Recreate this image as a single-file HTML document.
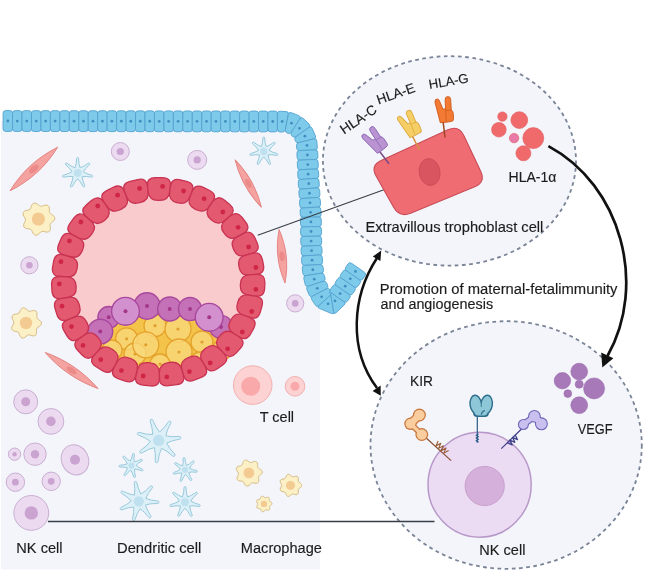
<!DOCTYPE html>
<html><head><meta charset="utf-8"><style>html,body{margin:0;padding:0;background:#fff;width:669px;height:572px;overflow:hidden}svg{display:block;will-change:transform}text{font-family:"Liberation Sans",sans-serif}</style></head>
<body>
<svg width="669" height="572" viewBox="0 0 669 572" font-family="Liberation Sans, sans-serif">
<rect width="669" height="572" fill="#ffffff"/>
<path d="M1,121 H282.5 A24.5,24.5 0 0 1 307,146 L311,252 L313,282 L320,300 L320,569.5 H1 Z" fill="#f3f5fa"/>
<ellipse cx="449.45" cy="160.9" rx="126.55" ry="104.7" fill="#f3f5fa" stroke="#7a8497" stroke-width="1.8" stroke-dasharray="3.7 3.5"/>
<ellipse cx="506.15" cy="445" rx="135.65" ry="123.8" fill="#f3f5fa" stroke="#7a8497" stroke-width="1.8" stroke-dasharray="3.7 3.5"/>
<path d="M3.11,113.2 Q3.12,110.6 5.72,110.6 L9.98,110.61 Q12.58,110.62 12.57,113.22 L12.55,128.82 Q12.54,131.42 9.94,131.41 L5.68,131.4 Q3.08,131.4 3.09,128.8 Z" fill="#7ecaeb" stroke="#52a3cf" stroke-width="0.9"/>
<path d="M12.57,113.22 Q12.58,110.62 15.18,110.62 L19.44,110.63 Q22.04,110.63 22.03,113.23 L22.01,128.83 Q22,131.43 19.4,131.43 L15.14,131.42 Q12.54,131.42 12.55,128.82 Z" fill="#7ecaeb" stroke="#52a3cf" stroke-width="0.9"/>
<path d="M22.03,113.23 Q22.04,110.63 24.64,110.64 L28.9,110.65 Q31.5,110.65 31.49,113.25 L31.46,128.85 Q31.46,131.45 28.86,131.45 L24.6,131.44 Q22,131.43 22.01,128.83 Z" fill="#7ecaeb" stroke="#52a3cf" stroke-width="0.9"/>
<path d="M31.49,113.25 Q31.5,110.65 34.1,110.66 L38.36,110.66 Q40.96,110.67 40.95,113.27 L40.92,128.87 Q40.92,131.47 38.32,131.46 L34.06,131.46 Q31.46,131.45 31.47,128.85 Z" fill="#7ecaeb" stroke="#52a3cf" stroke-width="0.9"/>
<path d="M40.95,113.27 Q40.96,110.67 43.56,110.67 L47.82,110.68 Q50.42,110.68 50.41,113.28 L50.38,128.88 Q50.38,131.48 47.78,131.48 L43.52,131.47 Q40.92,131.47 40.93,128.87 Z" fill="#7ecaeb" stroke="#52a3cf" stroke-width="0.9"/>
<path d="M50.41,113.28 Q50.42,110.68 53.02,110.69 L57.28,110.7 Q59.88,110.7 59.87,113.3 L59.84,128.9 Q59.84,131.5 57.24,131.5 L52.98,131.49 Q50.38,131.48 50.39,128.88 Z" fill="#7ecaeb" stroke="#52a3cf" stroke-width="0.9"/>
<path d="M59.87,113.3 Q59.88,110.7 62.48,110.71 L66.74,110.71 Q69.34,110.72 69.33,113.32 L69.3,128.92 Q69.3,131.52 66.7,131.51 L62.44,131.51 Q59.84,131.5 59.85,128.9 Z" fill="#7ecaeb" stroke="#52a3cf" stroke-width="0.9"/>
<path d="M69.33,113.32 Q69.34,110.72 71.94,110.72 L76.2,110.73 Q78.8,110.74 78.79,113.34 L78.76,128.94 Q78.76,131.54 76.16,131.53 L71.9,131.52 Q69.3,131.52 69.31,128.92 Z" fill="#7ecaeb" stroke="#52a3cf" stroke-width="0.9"/>
<path d="M78.79,113.34 Q78.8,110.74 81.4,110.74 L85.66,110.75 Q88.26,110.75 88.25,113.35 L88.22,128.95 Q88.22,131.55 85.62,131.55 L81.36,131.54 Q78.76,131.54 78.77,128.94 Z" fill="#7ecaeb" stroke="#52a3cf" stroke-width="0.9"/>
<path d="M88.25,113.35 Q88.26,110.75 90.86,110.76 L95.12,110.76 Q97.72,110.77 97.71,113.37 L97.68,128.97 Q97.68,131.57 95.08,131.56 L90.82,131.56 Q88.22,131.55 88.23,128.95 Z" fill="#7ecaeb" stroke="#52a3cf" stroke-width="0.9"/>
<path d="M97.71,113.37 Q97.72,110.77 100.32,110.77 L104.58,110.78 Q107.18,110.79 107.17,113.39 L107.14,128.99 Q107.14,131.59 104.54,131.58 L100.28,131.57 Q97.68,131.57 97.69,128.97 Z" fill="#7ecaeb" stroke="#52a3cf" stroke-width="0.9"/>
<path d="M107.17,113.39 Q107.18,110.79 109.78,110.79 L114.04,110.8 Q116.64,110.8 116.63,113.4 L116.6,129 Q116.6,131.6 114,131.6 L109.74,131.59 Q107.14,131.59 107.15,128.99 Z" fill="#7ecaeb" stroke="#52a3cf" stroke-width="0.9"/>
<path d="M116.63,113.4 Q116.64,110.8 119.24,110.81 L123.5,110.82 Q126.1,110.82 126.09,113.42 L126.06,129.02 Q126.06,131.62 123.46,131.62 L119.2,131.61 Q116.6,131.6 116.61,129 Z" fill="#7ecaeb" stroke="#52a3cf" stroke-width="0.9"/>
<path d="M126.09,113.42 Q126.1,110.82 128.7,110.82 L132.96,110.83 Q135.56,110.84 135.55,113.44 L135.52,129.04 Q135.52,131.64 132.92,131.63 L128.66,131.62 Q126.06,131.62 126.07,129.02 Z" fill="#7ecaeb" stroke="#52a3cf" stroke-width="0.9"/>
<path d="M135.55,113.44 Q135.56,110.84 138.16,110.84 L142.42,110.85 Q145.02,110.85 145.01,113.45 L144.98,129.05 Q144.98,131.65 142.38,131.65 L138.12,131.64 Q135.52,131.64 135.53,129.04 Z" fill="#7ecaeb" stroke="#52a3cf" stroke-width="0.9"/>
<path d="M145.01,113.45 Q145.02,110.85 147.62,110.86 L151.88,110.87 Q154.48,110.87 154.47,113.47 L154.44,129.07 Q154.44,131.67 151.84,131.67 L147.58,131.66 Q144.98,131.65 144.99,129.05 Z" fill="#7ecaeb" stroke="#52a3cf" stroke-width="0.9"/>
<path d="M154.47,113.47 Q154.48,110.87 157.08,110.88 L161.34,110.88 Q163.94,110.89 163.93,113.49 L163.9,129.09 Q163.9,131.69 161.3,131.68 L157.04,131.68 Q154.44,131.67 154.45,129.07 Z" fill="#7ecaeb" stroke="#52a3cf" stroke-width="0.9"/>
<path d="M163.93,113.49 Q163.94,110.89 166.54,110.89 L170.8,110.9 Q173.4,110.9 173.39,113.5 L173.36,129.1 Q173.36,131.7 170.76,131.7 L166.5,131.69 Q163.9,131.69 163.91,129.09 Z" fill="#7ecaeb" stroke="#52a3cf" stroke-width="0.9"/>
<path d="M173.39,113.5 Q173.4,110.9 176,110.91 L180.26,110.92 Q182.86,110.92 182.85,113.52 L182.82,129.12 Q182.82,131.72 180.22,131.72 L175.96,131.71 Q173.36,131.7 173.37,129.1 Z" fill="#7ecaeb" stroke="#52a3cf" stroke-width="0.9"/>
<path d="M182.85,113.52 Q182.86,110.92 185.46,110.93 L189.72,110.93 Q192.32,110.94 192.31,113.54 L192.28,129.14 Q192.28,131.74 189.68,131.73 L185.42,131.73 Q182.82,131.72 182.83,129.12 Z" fill="#7ecaeb" stroke="#52a3cf" stroke-width="0.9"/>
<path d="M192.31,113.54 Q192.32,110.94 194.92,110.94 L199.18,110.95 Q201.78,110.96 201.77,113.56 L201.74,129.16 Q201.74,131.76 199.14,131.75 L194.88,131.74 Q192.28,131.74 192.29,129.14 Z" fill="#7ecaeb" stroke="#52a3cf" stroke-width="0.9"/>
<path d="M201.77,113.56 Q201.78,110.96 204.38,110.96 L208.64,110.97 Q211.24,110.97 211.23,113.57 L211.2,129.17 Q211.2,131.77 208.6,131.77 L204.34,131.76 Q201.74,131.76 201.75,129.16 Z" fill="#7ecaeb" stroke="#52a3cf" stroke-width="0.9"/>
<path d="M211.23,113.57 Q211.24,110.97 213.84,110.98 L218.1,110.98 Q220.7,110.99 220.69,113.59 L220.66,129.19 Q220.66,131.79 218.06,131.78 L213.8,131.78 Q211.2,131.77 211.21,129.17 Z" fill="#7ecaeb" stroke="#52a3cf" stroke-width="0.9"/>
<path d="M220.69,113.59 Q220.7,110.99 223.3,110.99 L227.56,111 Q230.16,111.01 230.15,113.61 L230.12,129.21 Q230.12,131.81 227.52,131.8 L223.26,131.79 Q220.66,131.79 220.67,129.19 Z" fill="#7ecaeb" stroke="#52a3cf" stroke-width="0.9"/>
<path d="M230.15,113.61 Q230.16,111.01 232.76,111.01 L237.02,111.02 Q239.62,111.02 239.61,113.62 L239.58,129.22 Q239.58,131.82 236.98,131.82 L232.72,131.81 Q230.12,131.81 230.13,129.21 Z" fill="#7ecaeb" stroke="#52a3cf" stroke-width="0.9"/>
<path d="M239.61,113.62 Q239.62,111.02 242.22,111.03 L246.48,111.04 Q249.08,111.04 249.07,113.64 L249.04,129.24 Q249.04,131.84 246.44,131.84 L242.18,131.83 Q239.58,131.82 239.59,129.22 Z" fill="#7ecaeb" stroke="#52a3cf" stroke-width="0.9"/>
<path d="M249.07,113.64 Q249.08,111.04 251.68,111.04 L255.94,111.05 Q258.54,111.06 258.53,113.66 L258.5,129.26 Q258.5,131.86 255.9,131.85 L251.64,131.84 Q249.04,131.84 249.05,129.24 Z" fill="#7ecaeb" stroke="#52a3cf" stroke-width="0.9"/>
<path d="M258.53,113.66 Q258.54,111.06 261.14,111.06 L265.4,111.07 Q268,111.07 267.99,113.67 L267.96,129.27 Q267.96,131.87 265.36,131.87 L261.1,131.86 Q258.5,131.86 258.51,129.26 Z" fill="#7ecaeb" stroke="#52a3cf" stroke-width="0.9"/>
<path d="M267.99,113.67 Q268,111.07 270.6,111.08 L274.86,111.09 Q277.46,111.09 277.45,113.69 L277.42,129.29 Q277.42,131.89 274.82,131.89 L270.56,131.88 Q267.96,131.87 267.97,129.27 Z" fill="#7ecaeb" stroke="#52a3cf" stroke-width="0.9"/>
<path d="M277.45,113.69 Q277.46,111.09 280.06,111.23 L286.24,111.55 Q288.83,111.69 288.34,114.24 L285.4,129.56 Q284.91,132.12 282.32,132.04 L280.02,131.97 Q277.42,131.89 277.43,129.29 Z" fill="#7ecaeb" stroke="#52a3cf" stroke-width="0.9"/>
<path d="M288.35,114.24 Q288.84,111.69 291.25,112.64 L298.91,115.67 Q301.33,116.62 299.93,118.81 L291.48,132.03 Q290.12,134.15 287.78,133.23 L287.26,133.03 Q284.92,132.12 285.39,129.64 Z" fill="#7ecaeb" stroke="#52a3cf" stroke-width="0.9"/>
<path d="M299.93,118.82 Q301.33,116.62 303.21,118.42 L309.15,124.11 Q311.03,125.91 308.92,127.43 L296.18,136.58 Q294.14,138.05 292.33,136.29 L291.93,135.9 Q290.13,134.15 291.48,132.03 Z" fill="#7ecaeb" stroke="#52a3cf" stroke-width="0.9"/>
<path d="M308.92,127.43 Q311.03,125.91 312.09,128.29 L315.45,135.8 Q316.51,138.18 313.99,138.8 L298.77,142.59 Q296.32,143.2 295.34,140.88 L295.12,140.36 Q294.14,138.05 296.18,136.58 Z" fill="#7ecaeb" stroke="#52a3cf" stroke-width="0.9"/>
<path d="M313.99,138.81 Q316.51,138.18 316.75,140.77 L317.34,147.16 Q317.58,149.75 314.98,149.87 L299.4,150.56 Q296.8,150.68 296.63,148.08 L296.49,145.79 Q296.32,143.2 298.85,142.57 Z" fill="#7ecaeb" stroke="#52a3cf" stroke-width="0.9"/>
<path d="M314.98,149.87 Q317.58,149.76 317.69,152.35 L317.88,156.76 Q317.99,159.36 315.39,159.46 L299.8,160.1 Q297.2,160.21 297.09,157.61 L296.91,153.28 Q296.8,150.68 299.4,150.56 Z" fill="#7ecaeb" stroke="#52a3cf" stroke-width="0.9"/>
<path d="M315.39,159.47 Q317.99,159.36 318.09,161.96 L318.27,166.33 Q318.38,168.92 315.78,169.03 L300.19,169.67 Q297.6,169.77 297.49,167.18 L297.31,162.81 Q297.2,160.21 299.8,160.1 Z" fill="#7ecaeb" stroke="#52a3cf" stroke-width="0.9"/>
<path d="M315.78,169.03 Q318.38,168.93 318.5,171.52 L318.69,175.61 Q318.81,178.2 316.21,178.38 L300.65,179.45 Q298.06,179.62 297.93,177.03 L297.72,172.37 Q297.6,169.78 300.19,169.67 Z" fill="#7ecaeb" stroke="#52a3cf" stroke-width="0.9"/>
<path d="M316.21,178.38 Q318.81,178.21 318.98,180.8 L319.28,185.16 Q319.46,187.76 316.87,187.93 L301.3,189 Q298.71,189.18 298.53,186.58 L298.23,182.22 Q298.06,179.63 300.65,179.45 Z" fill="#7ecaeb" stroke="#52a3cf" stroke-width="0.9"/>
<path d="M316.87,187.94 Q319.46,187.76 319.64,190.35 L319.93,194.77 Q320.11,197.36 317.51,197.53 L301.94,198.51 Q299.35,198.68 299.17,196.08 L298.88,191.77 Q298.71,189.18 301.3,189 Z" fill="#7ecaeb" stroke="#52a3cf" stroke-width="0.9"/>
<path d="M317.51,197.53 Q320.11,197.37 320.27,199.96 L320.55,204.33 Q320.71,206.92 318.12,207.08 L302.55,208.07 Q299.95,208.23 299.79,205.64 L299.51,201.27 Q299.35,198.68 301.94,198.51 Z" fill="#7ecaeb" stroke="#52a3cf" stroke-width="0.9"/>
<path d="M318.12,207.09 Q320.71,206.92 320.84,209.52 L321.1,214.39 Q321.23,216.99 318.63,217.03 L303.03,217.25 Q300.43,217.29 300.29,214.69 L300.09,210.83 Q299.95,208.23 302.55,208.07 Z" fill="#7ecaeb" stroke="#52a3cf" stroke-width="0.9"/>
<path d="M318.63,217.03 Q321.23,216.99 321.27,219.59 L321.33,223.96 Q321.37,226.56 318.77,226.6 L303.17,226.82 Q300.57,226.86 300.53,224.26 L300.47,219.89 Q300.43,217.29 303.03,217.25 Z" fill="#7ecaeb" stroke="#52a3cf" stroke-width="0.9"/>
<path d="M318.77,226.6 Q321.37,226.56 321.4,229.16 L321.47,233.54 Q321.5,236.14 318.9,236.17 L303.3,236.4 Q300.71,236.43 300.67,233.83 L300.61,229.46 Q300.57,226.86 303.17,226.82 Z" fill="#7ecaeb" stroke="#52a3cf" stroke-width="0.9"/>
<path d="M318.9,236.18 Q321.5,236.14 321.57,238.74 L321.67,242.74 Q321.73,245.34 319.13,245.47 L303.55,246.25 Q300.96,246.38 300.89,243.78 L300.77,239.03 Q300.71,236.44 303.3,236.4 Z" fill="#7ecaeb" stroke="#52a3cf" stroke-width="0.9"/>
<path d="M319.13,245.47 Q321.73,245.34 321.86,247.94 L322.08,252.26 Q322.21,254.86 319.61,255 L304.03,255.84 Q301.44,255.98 301.31,253.38 L301.09,248.97 Q300.96,246.38 303.55,246.25 Z" fill="#7ecaeb" stroke="#52a3cf" stroke-width="0.9"/>
<path d="M319.61,255 Q322.21,254.86 322.35,257.46 L322.58,261.83 Q322.72,264.42 320.13,264.56 L304.55,265.4 Q301.95,265.54 301.81,262.94 L301.58,258.58 Q301.44,255.98 304.03,255.84 Z" fill="#7ecaeb" stroke="#52a3cf" stroke-width="0.9"/>
<path d="M320.13,264.56 Q322.72,264.42 323.05,267 L323.46,270.28 Q323.79,272.86 321.22,273.27 L305.81,275.68 Q303.24,276.08 302.92,273.5 L302.27,268.12 Q301.95,265.54 304.55,265.4 Z" fill="#7ecaeb" stroke="#52a3cf" stroke-width="0.9"/>
<path d="M321.22,273.27 Q323.79,272.87 324.39,275.4 L324.99,277.94 Q325.59,280.47 323.12,281.29 L308.32,286.22 Q305.85,287.05 305.25,284.52 L303.84,278.61 Q303.24,276.08 305.81,275.68 Z" fill="#7ecaeb" stroke="#52a3cf" stroke-width="0.9"/>
<path d="M323.12,281.29 Q325.59,280.47 326.59,282.87 L327.63,285.34 Q328.64,287.74 326.33,288.94 L312.5,296.17 Q310.2,297.37 309.19,294.97 L306.86,289.44 Q305.85,287.05 308.32,286.22 Z" fill="#7ecaeb" stroke="#52a3cf" stroke-width="0.9"/>
<path d="M326.33,288.95 Q328.64,287.74 330.06,289.92 L330.98,291.34 Q332.4,293.51 330.47,295.25 L318.88,305.69 Q316.94,307.43 315.5,305.27 L311.65,299.53 Q310.2,297.37 312.5,296.17 Z" fill="#7ecaeb" stroke="#52a3cf" stroke-width="0.9"/>
<path d="M331.76,294.1 Q332.41,293.52 331.68,294 L331.52,294.11 Q330.8,294.6 330.94,295.46 L333.68,312.03 Q334.1,314.6 331.7,313.6 L319.34,308.43 Q316.94,307.43 318.88,305.69 Z" fill="#7ecaeb" stroke="#52a3cf" stroke-width="0.9"/>
<path d="M331.07,296.26 Q330.8,294.6 330,293.12 L329.82,292.79 Q329.01,291.3 330.4,292.27 L343.97,301.67 Q346.11,303.16 344.22,304.95 L335.98,312.81 Q334.1,314.6 333.68,312.03 Z" fill="#7ecaeb" stroke="#52a3cf" stroke-width="0.9"/>
<path d="M331.15,292.79 Q329.01,291.3 330.49,289.17 L332.64,286.07 Q334.12,283.93 336.26,285.42 L349.08,294.3 Q351.22,295.79 349.74,297.92 L347.59,301.02 Q346.11,303.16 343.97,301.67 Z" fill="#7ecaeb" stroke="#52a3cf" stroke-width="0.9"/>
<path d="M336.26,285.42 Q334.12,283.93 335.6,281.8 L337.75,278.7 Q339.23,276.56 341.37,278.05 L354.19,286.93 Q356.33,288.42 354.85,290.55 L352.7,293.65 Q351.22,295.79 349.08,294.3 Z" fill="#7ecaeb" stroke="#52a3cf" stroke-width="0.9"/>
<path d="M341.37,278.05 Q339.23,276.56 340.71,274.43 L342.86,271.33 Q344.34,269.19 346.48,270.68 L359.3,279.56 Q361.44,281.05 359.96,283.18 L357.81,286.28 Q356.33,288.42 354.19,286.93 Z" fill="#7ecaeb" stroke="#52a3cf" stroke-width="0.9"/>
<path d="M346.48,270.68 Q344.34,269.19 345.82,267.06 L347.97,263.96 Q349.45,261.82 351.59,263.31 L364.41,272.19 Q366.55,273.68 365.07,275.81 L362.92,278.91 Q361.44,281.05 359.3,279.56 Z" fill="#7ecaeb" stroke="#52a3cf" stroke-width="0.9"/>
<circle cx="7.83" cy="121.01" r="1.4" fill="#3f90c2"/>
<circle cx="17.29" cy="121.03" r="1.4" fill="#3f90c2"/>
<circle cx="26.75" cy="121.04" r="1.4" fill="#3f90c2"/>
<circle cx="36.21" cy="121.06" r="1.4" fill="#3f90c2"/>
<circle cx="45.67" cy="121.08" r="1.4" fill="#3f90c2"/>
<circle cx="55.13" cy="121.09" r="1.4" fill="#3f90c2"/>
<circle cx="64.59" cy="121.11" r="1.4" fill="#3f90c2"/>
<circle cx="74.05" cy="121.13" r="1.4" fill="#3f90c2"/>
<circle cx="83.51" cy="121.14" r="1.4" fill="#3f90c2"/>
<circle cx="92.97" cy="121.16" r="1.4" fill="#3f90c2"/>
<circle cx="102.43" cy="121.18" r="1.4" fill="#3f90c2"/>
<circle cx="111.89" cy="121.19" r="1.4" fill="#3f90c2"/>
<circle cx="121.35" cy="121.21" r="1.4" fill="#3f90c2"/>
<circle cx="130.81" cy="121.23" r="1.4" fill="#3f90c2"/>
<circle cx="140.27" cy="121.25" r="1.4" fill="#3f90c2"/>
<circle cx="149.73" cy="121.26" r="1.4" fill="#3f90c2"/>
<circle cx="159.19" cy="121.28" r="1.4" fill="#3f90c2"/>
<circle cx="168.65" cy="121.3" r="1.4" fill="#3f90c2"/>
<circle cx="178.11" cy="121.31" r="1.4" fill="#3f90c2"/>
<circle cx="187.57" cy="121.33" r="1.4" fill="#3f90c2"/>
<circle cx="197.03" cy="121.35" r="1.4" fill="#3f90c2"/>
<circle cx="206.49" cy="121.36" r="1.4" fill="#3f90c2"/>
<circle cx="215.95" cy="121.38" r="1.4" fill="#3f90c2"/>
<circle cx="225.41" cy="121.4" r="1.4" fill="#3f90c2"/>
<circle cx="234.87" cy="121.41" r="1.4" fill="#3f90c2"/>
<circle cx="244.33" cy="121.43" r="1.4" fill="#3f90c2"/>
<circle cx="253.79" cy="121.45" r="1.4" fill="#3f90c2"/>
<circle cx="263.25" cy="121.47" r="1.4" fill="#3f90c2"/>
<circle cx="272.71" cy="121.48" r="1.4" fill="#3f90c2"/>
<circle cx="282.17" cy="121.5" r="1.4" fill="#3f90c2"/>
<circle cx="291.47" cy="123.21" r="1.4" fill="#3f90c2"/>
<circle cx="299.48" cy="128.34" r="1.4" fill="#3f90c2"/>
<circle cx="304.92" cy="136.15" r="1.4" fill="#3f90c2"/>
<circle cx="306.98" cy="145.43" r="1.4" fill="#3f90c2"/>
<circle cx="307.4" cy="155" r="1.4" fill="#3f90c2"/>
<circle cx="307.79" cy="164.57" r="1.4" fill="#3f90c2"/>
<circle cx="308.18" cy="174.13" r="1.4" fill="#3f90c2"/>
<circle cx="308.76" cy="183.69" r="1.4" fill="#3f90c2"/>
<circle cx="309.41" cy="193.24" r="1.4" fill="#3f90c2"/>
<circle cx="310.03" cy="202.8" r="1.4" fill="#3f90c2"/>
<circle cx="310.63" cy="212.36" r="1.4" fill="#3f90c2"/>
<circle cx="310.9" cy="221.92" r="1.4" fill="#3f90c2"/>
<circle cx="311.04" cy="231.5" r="1.4" fill="#3f90c2"/>
<circle cx="311.17" cy="241.07" r="1.4" fill="#3f90c2"/>
<circle cx="311.58" cy="250.64" r="1.4" fill="#3f90c2"/>
<circle cx="312.08" cy="260.2" r="1.4" fill="#3f90c2"/>
<circle cx="312.77" cy="269.74" r="1.4" fill="#3f90c2"/>
<circle cx="314.25" cy="279.2" r="1.4" fill="#3f90c2"/>
<circle cx="317.23" cy="288.3" r="1.4" fill="#3f90c2"/>
<circle cx="321.63" cy="296.8" r="1.4" fill="#3f90c2"/>
<circle cx="328.04" cy="303.82" r="1.4" fill="#3f90c2"/>
<circle cx="335.01" cy="300.92" r="1.4" fill="#3f90c2"/>
<circle cx="340.12" cy="293.55" r="1.4" fill="#3f90c2"/>
<circle cx="345.23" cy="286.18" r="1.4" fill="#3f90c2"/>
<circle cx="350.34" cy="278.81" r="1.4" fill="#3f90c2"/>
<circle cx="355.44" cy="271.44" r="1.4" fill="#3f90c2"/>
<g transform="translate(33.85,169) rotate(-42.43)"><path d="M-32.31,0 C-10.77,-6.2 10.77,-6.2 32.31,0 C10.77,6.2 -10.77,6.2 -32.31,0Z" fill="#f4a3a0" stroke="#e4817f" stroke-width="0.9" stroke-linejoin="round"/><ellipse cx="0" cy="0" rx="5.82" ry="3" fill="#ec8a89"/></g>
<path d="M75.08,167.77 Q76.5,164.08 76.66,158.5 A0.94,0.94 0 0 1 78.54,158.5 Q78.7,164.08 80.12,167.77 Q83.89,166.58 88.35,163.22 A0.94,0.94 0 0 1 89.52,164.7 Q85.26,168.29 83.25,171.71 Q86.54,173.92 91.95,175.31 A0.94,0.94 0 0 1 91.53,177.15 Q86.06,176.05 82.13,176.62 Q82.46,180.56 84.74,185.66 A0.94,0.94 0 0 1 83.04,186.47 Q80.48,181.51 77.6,178.8 Q74.72,181.51 72.16,186.47 A0.94,0.94 0 0 1 70.46,185.66 Q72.74,180.56 73.07,176.62 Q69.14,176.05 63.67,177.15 A0.94,0.94 0 0 1 63.25,175.31 Q68.66,173.92 71.95,171.71 Q69.94,168.29 65.68,164.7 A0.94,0.94 0 0 1 66.85,163.22 Q71.31,166.58 75.08,167.77 Z" fill="#ddf0f8" stroke="#98cadb" stroke-width="1" stroke-linejoin="round"/>
<circle cx="77.6" cy="173" r="3.92" fill="#bfe1ef"/>
<path d="M54.79,219 L54.07,220.37 L52.86,221.55 L51.58,222.53 L50.6,223.44 L50.12,224.47 L50.11,225.76 L50.3,227.33 L50.34,229.02 L49.95,230.55 L48.99,231.62 L47.56,232.08 L45.9,231.99 L44.28,231.61 L42.88,231.32 L41.73,231.44 L40.71,232.09 L39.64,233.16 L38.4,234.31 L36.99,235.11 L35.53,235.25 L34.21,234.62 L33.17,233.38 L32.39,231.88 L31.75,230.51 L31.01,229.55 L29.97,229.05 L28.56,228.84 L26.91,228.64 L25.32,228.16 L24.13,227.24 L23.6,225.9 L23.75,224.33 L24.37,222.76 L25.09,221.35 L25.52,220.13 L25.42,219 L24.81,217.81 L23.94,216.45 L23.21,214.93 L23,213.39 L23.5,212.05 L24.67,211.07 L26.24,210.49 L27.85,210.14 L29.18,209.78 L30.11,209.12 L30.71,208.02 L31.22,206.56 L31.87,205 L32.84,203.72 L34.13,203.07 L35.61,203.17 L37.08,203.9 L38.4,204.94 L39.55,205.85 L40.63,206.33 L41.82,206.25 L43.21,205.78 L44.8,205.27 L46.44,205.08 L47.86,205.49 L48.85,206.55 L49.33,208.07 L49.41,209.76 L49.38,211.31 L49.57,212.55 L50.22,213.49 L51.35,214.29 L52.74,215.16 L54.01,216.25 L54.78,217.57Z" fill="#fcf0c6" stroke="#d2b67c" stroke-width="0.9" stroke-linejoin="round"/>
<circle cx="38.4" cy="219" r="6.6" fill="#f3cb92"/>
<circle cx="120.3" cy="151.5" r="9" fill="#ecdbf0" stroke="#c9aed2" stroke-width="1"/>
<circle cx="120.3" cy="151.5" r="3.6" fill="#caa3d0"/>
<circle cx="197.2" cy="159.9" r="9.5" fill="#ecdbf0" stroke="#c9aed2" stroke-width="1"/>
<circle cx="197.2" cy="159.9" r="3.6" fill="#caa3d0"/>
<path d="M261.46,146.63 Q262.78,143.19 262.9,138 A0.9,0.9 0 0 1 264.7,138 Q264.82,143.19 266.14,146.63 Q269.66,145.52 273.79,142.38 A0.9,0.9 0 0 1 274.92,143.79 Q270.93,147.12 269.06,150.3 Q272.13,152.35 277.16,153.63 A0.9,0.9 0 0 1 276.76,155.38 Q271.67,154.34 268.02,154.87 Q268.32,158.54 270.47,163.27 A0.9,0.9 0 0 1 268.85,164.05 Q266.49,159.43 263.8,156.9 Q261.11,159.43 258.75,164.05 A0.9,0.9 0 0 1 257.13,163.27 Q259.28,158.54 259.58,154.87 Q255.93,154.34 250.84,155.38 A0.9,0.9 0 0 1 250.44,153.63 Q255.47,152.35 258.54,150.3 Q256.67,147.12 252.68,143.79 A0.9,0.9 0 0 1 253.81,142.38 Q257.94,145.52 261.46,146.63 Z" fill="#ddf0f8" stroke="#98cadb" stroke-width="1" stroke-linejoin="round"/>
<circle cx="263.8" cy="151.5" r="3.65" fill="#bfe1ef"/>
<g transform="translate(248.25,183.5) rotate(60.87)"><path d="M-27.02,0 C-9.01,-4.96 9.01,-4.96 27.02,0 C9.01,4.96 -9.01,4.96 -27.02,0Z" fill="#f4a3a0" stroke="#e4817f" stroke-width="0.9" stroke-linejoin="round"/><ellipse cx="0" cy="0" rx="4.86" ry="2.4" fill="#ec8a89"/></g>
<circle cx="29.4" cy="265.3" r="8.6" fill="#ecdbf0" stroke="#c9aed2" stroke-width="1"/>
<circle cx="29.4" cy="265.3" r="3.3" fill="#caa3d0"/>
<g transform="translate(282.05,256.25) rotate(83.71)"><path d="M-26.91,0 C-8.97,-5.58 8.97,-5.58 26.91,0 C8.97,5.58 -8.97,5.58 -26.91,0Z" fill="#f4a3a0" stroke="#e4817f" stroke-width="0.9" stroke-linejoin="round"/><ellipse cx="0" cy="0" rx="4.84" ry="2.7" fill="#ec8a89"/></g>
<path d="M41.47,323 L41.28,324.34 L40.42,325.54 L39.18,326.53 L37.93,327.34 L37.01,328.13 L36.56,329.1 L36.5,330.35 L36.57,331.87 L36.45,333.45 L35.9,334.79 L34.86,335.65 L33.45,335.9 L31.89,335.64 L30.43,335.16 L29.17,334.83 L28.1,334.93 L27.1,335.54 L26,336.5 L24.73,337.46 L23.35,338.04 L21.99,337.97 L20.84,337.19 L19.98,335.9 L19.39,334.44 L18.89,333.16 L18.23,332.26 L17.23,331.77 L15.88,331.49 L14.34,331.17 L12.92,330.55 L11.96,329.55 L11.65,328.22 L11.98,326.76 L12.71,325.34 L13.46,324.1 L13.88,323 L13.8,321.93 L13.25,320.75 L12.53,319.39 L12.01,317.91 L12,316.47 L12.67,315.3 L13.9,314.53 L15.43,314.13 L16.94,313.94 L18.16,313.66 L19.03,313.05 L19.65,312 L20.23,310.63 L20.99,309.24 L22.03,308.18 L23.31,307.76 L24.69,308.06 L26,308.91 L27.14,309.98 L28.14,310.87 L29.13,311.32 L30.27,311.26 L31.64,310.9 L33.19,310.55 L34.71,310.56 L35.96,311.13 L36.74,312.26 L37.01,313.76 L36.94,315.34 L36.82,316.76 L36.96,317.89 L37.58,318.79 L38.63,319.62 L39.88,320.55 L40.94,321.69Z" fill="#fcf0c6" stroke="#d2b67c" stroke-width="0.9" stroke-linejoin="round"/>
<circle cx="26" cy="323" r="6.2" fill="#f3cb92"/>
<circle cx="295.2" cy="303.4" r="8.6" fill="#ecdbf0" stroke="#c9aed2" stroke-width="1"/>
<circle cx="295.2" cy="303.4" r="3.3" fill="#caa3d0"/>
<g transform="translate(71.6,370.5) rotate(34.29)"><path d="M-31.95,0 C-10.65,-5.58 10.65,-5.58 31.95,0 C10.65,5.58 -10.65,5.58 -31.95,0Z" fill="#f4a3a0" stroke="#e4817f" stroke-width="0.9" stroke-linejoin="round"/><ellipse cx="0" cy="0" rx="5.75" ry="2.7" fill="#ec8a89"/></g>
<ellipse cx="158.2" cy="281.9" rx="86" ry="85" fill="#f9cbcd"/>
<path d="M92,334 C100,318 130,312 158,314 C190,314 220,316 234,332 C232,352 215,366 190,372 C160,378 125,374 105,362 Z" fill="#f4c44a" stroke="#e3a52e" stroke-width="1"/>
<circle cx="126.6" cy="338.8" r="11" fill="#f9d97e" fill-opacity="0.75" stroke="#e5a22c" stroke-width="1.3"/>
<circle cx="126.6" cy="338.8" r="1.6" fill="#e0a030"/>
<circle cx="155" cy="325.7" r="11" fill="#f9d97e" fill-opacity="0.75" stroke="#e5a22c" stroke-width="1.3"/>
<circle cx="155" cy="325.7" r="1.6" fill="#e0a030"/>
<circle cx="202" cy="342" r="11" fill="#f9d97e" fill-opacity="0.75" stroke="#e5a22c" stroke-width="1.3"/>
<circle cx="202" cy="342" r="1.6" fill="#e0a030"/>
<circle cx="135" cy="354" r="11" fill="#f9d97e" fill-opacity="0.75" stroke="#e5a22c" stroke-width="1.3"/>
<circle cx="135" cy="354" r="1.6" fill="#e0a030"/>
<circle cx="145.8" cy="344.8" r="13" fill="#f9d97e" fill-opacity="0.75" stroke="#e5a22c" stroke-width="1.3"/>
<circle cx="145.8" cy="344.8" r="1.6" fill="#e0a030"/>
<circle cx="178" cy="329" r="13" fill="#f9d97e" fill-opacity="0.75" stroke="#e5a22c" stroke-width="1.3"/>
<circle cx="178" cy="329" r="1.6" fill="#e0a030"/>
<circle cx="179" cy="352" r="13" fill="#f9d97e" fill-opacity="0.75" stroke="#e5a22c" stroke-width="1.3"/>
<circle cx="179" cy="352" r="1.6" fill="#e0a030"/>
<circle cx="112" cy="350" r="10" fill="#f9d97e" fill-opacity="0.75" stroke="#e5a22c" stroke-width="1.3"/>
<circle cx="112" cy="350" r="1.6" fill="#e0a030"/>
<circle cx="222" cy="350" r="10" fill="#f9d97e" fill-opacity="0.75" stroke="#e5a22c" stroke-width="1.3"/>
<circle cx="222" cy="350" r="1.6" fill="#e0a030"/>
<circle cx="160" cy="364" r="10" fill="#f9d97e" fill-opacity="0.75" stroke="#e5a22c" stroke-width="1.3"/>
<circle cx="160" cy="364" r="1.6" fill="#e0a030"/>
<circle cx="200" cy="362" r="10" fill="#f9d97e" fill-opacity="0.75" stroke="#e5a22c" stroke-width="1.3"/>
<circle cx="200" cy="362" r="1.6" fill="#e0a030"/>
<circle cx="108.7" cy="317.3" r="10.8" fill="#c571b8" stroke="#a8489c" stroke-width="1.4"/>
<circle cx="108.7" cy="317.3" r="2" fill="#a5378a"/>
<circle cx="221" cy="326.9" r="11.5" fill="#c571b8" stroke="#a8489c" stroke-width="1.4"/>
<circle cx="221" cy="326.9" r="2" fill="#a5378a"/>
<circle cx="100.3" cy="331.6" r="12.4" fill="#c571b8" stroke="#a8489c" stroke-width="1.4"/>
<circle cx="100.3" cy="331.6" r="2" fill="#a5378a"/>
<circle cx="147" cy="306" r="13.2" fill="#c571b8" stroke="#a8489c" stroke-width="1.4"/>
<circle cx="147" cy="306" r="2" fill="#a5378a"/>
<circle cx="169.7" cy="309" r="12" fill="#c571b8" stroke="#a8489c" stroke-width="1.4"/>
<circle cx="169.7" cy="309" r="2" fill="#a5378a"/>
<circle cx="190" cy="309" r="11.5" fill="#c571b8" stroke="#a8489c" stroke-width="1.4"/>
<circle cx="190" cy="309" r="2" fill="#a5378a"/>
<circle cx="125.5" cy="311.3" r="13.9" fill="#d290cf" stroke="#a8489c" stroke-width="1.4"/>
<circle cx="125.5" cy="311.3" r="2" fill="#a5378a"/>
<circle cx="209.2" cy="317.3" r="13.9" fill="#d290cf" stroke="#a8489c" stroke-width="1.4"/>
<circle cx="209.2" cy="317.3" r="2" fill="#a5378a"/>
<path d="M60.05,276.52 Q51.07,276.05 52.62,267.18 L53.63,261.41 Q55.18,252.54 63.86,254.92 L70.62,256.76 Q78.7,258.97 77.27,267.23 L76.96,269.07 Q75.53,277.33 67.16,276.89 Z" fill="#e3596f" stroke="#c93352" stroke-width="1.3"/>
<path d="M63.86,254.92 Q55.18,252.54 58.73,244.27 L61.09,238.77 Q64.64,230.5 72.6,234.7 L78.56,237.84 Q86,241.76 82.72,249.51 L81.99,251.23 Q78.7,258.97 70.59,256.75 Z" fill="#e3596f" stroke="#c93352" stroke-width="1.3"/>
<path d="M72.6,234.7 Q64.64,230.5 70,223.27 L73.95,217.95 Q79.32,210.72 86.12,216.61 L90.81,220.67 Q97.33,226.31 92.23,233.26 L91.1,234.81 Q86,241.76 78.37,237.74 Z" fill="#e3596f" stroke="#c93352" stroke-width="1.3"/>
<path d="M86.12,216.61 Q79.32,210.72 86.22,204.95 L91.71,200.35 Q98.62,194.58 103.83,201.91 L107.13,206.55 Q112.22,213.7 105.52,219.38 L104.03,220.64 Q97.33,226.31 90.69,220.57 Z" fill="#e3596f" stroke="#c93352" stroke-width="1.3"/>
<path d="M103.83,201.91 Q98.62,194.58 106.68,190.57 L113.29,187.29 Q121.36,183.28 124.62,191.67 L126.56,196.65 Q129.77,204.89 121.87,208.85 L120.12,209.74 Q112.22,213.7 107.1,206.5 Z" fill="#e3596f" stroke="#c93352" stroke-width="1.3"/>
<path d="M124.62,191.67 Q121.36,183.28 130.13,181.28 L137.76,179.53 Q146.53,177.52 147.57,186.46 L148.16,191.47 Q149.2,200.39 140.45,202.41 L138.51,202.86 Q129.77,204.89 126.51,196.52 Z" fill="#e3596f" stroke="#c93352" stroke-width="1.3"/>
<path d="M147.57,186.46 Q146.53,177.52 155.53,177.59 L162.56,177.65 Q171.56,177.72 170.36,186.64 L169.66,191.92 Q168.51,200.54 159.82,200.47 L157.89,200.45 Q149.2,200.39 148.19,191.75 Z" fill="#e3596f" stroke="#c93352" stroke-width="1.3"/>
<path d="M170.36,186.64 Q171.56,177.72 180.31,179.8 L186.52,181.28 Q195.27,183.37 191.99,191.74 L189.9,197.06 Q186.81,204.95 178.57,202.96 L176.74,202.52 Q168.51,200.54 169.63,192.14 Z" fill="#e3596f" stroke="#c93352" stroke-width="1.3"/>
<path d="M191.99,191.74 Q195.27,183.37 203.33,187.38 L209.68,190.53 Q217.73,194.54 212.52,201.88 L209.2,206.56 Q204.14,213.68 196.34,209.75 L194.61,208.88 Q186.81,204.95 190,196.82 Z" fill="#e3596f" stroke="#c93352" stroke-width="1.3"/>
<path d="M212.52,201.88 Q217.73,194.54 224.65,200.3 L229.75,204.53 Q236.67,210.28 229.9,216.21 L225.22,220.31 Q218.75,225.97 212.18,220.44 L210.72,219.21 Q204.14,213.68 209.12,206.67 Z" fill="#e3596f" stroke="#c93352" stroke-width="1.3"/>
<path d="M229.9,216.21 Q236.67,210.28 242.1,217.46 L245.68,222.19 Q251.11,229.37 243.19,233.66 L237.25,236.88 Q229.89,240.87 224.88,234.17 L223.77,232.68 Q218.75,225.97 225.05,220.46 Z" fill="#e3596f" stroke="#c93352" stroke-width="1.3"/>
<path d="M243.19,233.66 Q251.11,229.37 254.77,237.59 L257.08,242.76 Q260.74,250.98 252.1,253.48 L245.3,255.45 Q237.33,257.75 233.98,250.16 L233.24,248.47 Q229.89,240.87 237.19,236.92 Z" fill="#e3596f" stroke="#c93352" stroke-width="1.3"/>
<path d="M252.1,253.48 Q260.74,250.98 262.46,259.81 L263.45,264.9 Q265.18,273.74 256.2,274.4 L248.87,274.93 Q240.75,275.53 239.21,267.53 L238.87,265.75 Q237.33,257.75 245.15,255.49 Z" fill="#e3596f" stroke="#c93352" stroke-width="1.3"/>
<path d="M256.2,274.4 Q265.18,273.74 264.86,282.73 L264.66,288.32 Q264.34,297.32 255.42,296.07 L248.31,295.08 Q240.1,293.94 240.39,285.65 L240.46,283.81 Q240.75,275.53 249.02,274.92 Z" fill="#e3596f" stroke="#c93352" stroke-width="1.3"/>
<path d="M255.42,296.07 Q264.34,297.32 261.96,306 L260.36,311.83 Q257.98,320.51 249.55,317.38 L243.12,314.99 Q235.2,312.05 237.41,303.9 L237.9,302.09 Q240.1,293.94 248.47,295.1 Z" fill="#e3596f" stroke="#c93352" stroke-width="1.3"/>
<path d="M249.55,317.38 Q257.98,320.51 253.67,328.41 L250.72,333.8 Q246.4,341.7 238.86,336.79 L233.36,333.21 Q226.26,328.6 230.28,321.15 L231.18,319.5 Q235.2,312.05 243.13,315 Z" fill="#e3596f" stroke="#c93352" stroke-width="1.3"/>
<path d="M238.86,336.79 Q246.4,341.7 240.39,348.39 L236.1,353.16 Q230.08,359.86 223.85,353.37 L219.58,348.93 Q213.67,342.78 219.34,336.4 L220.6,334.98 Q226.26,328.6 233.42,333.25 Z" fill="#e3596f" stroke="#c93352" stroke-width="1.3"/>
<path d="M223.85,353.37 Q230.08,359.86 222.69,364.99 L217,368.93 Q209.61,374.06 205.09,366.28 L202.24,361.39 Q197.87,353.88 204.98,348.88 L206.56,347.77 Q213.67,342.78 219.69,349.04 Z" fill="#e3596f" stroke="#c93352" stroke-width="1.3"/>
<path d="M205.09,366.28 Q209.61,374.06 201.23,377.34 L194.09,380.12 Q185.71,383.39 183.26,374.73 L181.85,369.75 Q179.43,361.16 187.73,357.88 L189.57,357.15 Q197.87,353.88 202.36,361.59 Z" fill="#e3596f" stroke="#c93352" stroke-width="1.3"/>
<path d="M183.26,374.73 Q185.71,383.39 176.79,384.58 L168.45,385.7 Q159.53,386.89 159.41,377.89 L159.35,372.89 Q159.23,363.89 168.15,362.69 L170.51,362.37 Q179.43,361.16 181.87,369.82 Z" fill="#e3596f" stroke="#c93352" stroke-width="1.3"/>
<path d="M159.41,377.89 Q159.53,386.89 150.58,385.93 L142.65,385.08 Q133.7,384.13 135.88,375.39 L137.11,370.47 Q139.29,361.73 148.24,362.7 L150.28,362.92 Q159.23,363.89 159.35,372.89 Z" fill="#e3596f" stroke="#c93352" stroke-width="1.3"/>
<path d="M135.88,375.39 Q133.7,384.13 125.23,381.1 L118.04,378.53 Q109.56,375.49 113.85,367.58 L116.42,362.83 Q120.67,354.99 129.05,358.03 L130.91,358.7 Q139.29,361.73 137.13,370.38 Z" fill="#e3596f" stroke="#c93352" stroke-width="1.3"/>
<path d="M113.85,367.58 Q109.56,375.49 102.04,370.56 L95.78,366.46 Q88.25,361.52 94.33,354.89 L98.23,350.63 Q104.22,344.08 111.62,348.99 L113.27,350.08 Q120.67,354.99 116.44,362.8 Z" fill="#e3596f" stroke="#c93352" stroke-width="1.3"/>
<path d="M94.33,354.89 Q88.25,361.52 82.08,354.98 L77.65,350.28 Q71.48,343.73 78.9,338.65 L84.22,335.01 Q91.28,330.19 97.1,336.44 L98.4,337.83 Q104.22,344.08 98.45,350.39 Z" fill="#e3596f" stroke="#c93352" stroke-width="1.3"/>
<path d="M78.9,338.65 Q71.48,343.73 66.97,335.94 L63.93,330.69 Q59.42,322.9 67.78,319.57 L74.14,317.04 Q81.97,313.92 86.16,321.24 L87.09,322.87 Q91.28,330.19 84.32,334.94 Z" fill="#e3596f" stroke="#c93352" stroke-width="1.3"/>
<path d="M67.78,319.57 Q59.42,322.9 56.83,314.29 L55.07,308.47 Q52.48,299.85 61.36,298.4 L68.28,297.27 Q76.62,295.92 79.03,304.02 L79.56,305.82 Q81.97,313.92 74.12,317.05 Z" fill="#e3596f" stroke="#c93352" stroke-width="1.3"/>
<path d="M61.36,298.4 Q52.48,299.85 51.95,290.86 L51.6,285.03 Q51.07,276.05 60.05,276.52 L67.16,276.89 Q75.53,277.33 76.02,285.69 L76.13,287.55 Q76.62,295.92 68.35,297.26 Z" fill="#e3596f" stroke="#c93352" stroke-width="1.3"/>
<circle cx="61" cy="261.7" r="2.4" fill="#cf2646"/>
<circle cx="69.4" cy="240.9" r="2.4" fill="#cf2646"/>
<circle cx="80.9" cy="222" r="2.4" fill="#cf2646"/>
<circle cx="97.7" cy="206" r="2.4" fill="#cf2646"/>
<circle cx="117.6" cy="195.2" r="2.4" fill="#cf2646"/>
<circle cx="139.6" cy="188.5" r="2.4" fill="#cf2646"/>
<circle cx="162.6" cy="186.4" r="2.4" fill="#cf2646"/>
<circle cx="183.6" cy="191" r="2.4" fill="#cf2646"/>
<circle cx="204.1" cy="198.7" r="2.4" fill="#cf2646"/>
<circle cx="222.8" cy="212" r="2.4" fill="#cf2646"/>
<circle cx="238.1" cy="227.3" r="2.4" fill="#cf2646"/>
<circle cx="248.6" cy="247" r="2.4" fill="#cf2646"/>
<circle cx="255.9" cy="267.5" r="2.4" fill="#cf2646"/>
<circle cx="255.9" cy="289.4" r="2.4" fill="#cf2646"/>
<circle cx="251.7" cy="311.5" r="2.4" fill="#cf2646"/>
<circle cx="242.3" cy="332" r="2.4" fill="#cf2646"/>
<circle cx="227.6" cy="348.8" r="2.4" fill="#cf2646"/>
<circle cx="210.2" cy="362.9" r="2.4" fill="#cf2646"/>
<circle cx="189.4" cy="371.7" r="2.4" fill="#cf2646"/>
<circle cx="166.8" cy="376.9" r="2.4" fill="#cf2646"/>
<circle cx="143.2" cy="376" r="2.4" fill="#cf2646"/>
<circle cx="121.4" cy="370.6" r="2.4" fill="#cf2646"/>
<circle cx="100.8" cy="359.7" r="2.4" fill="#cf2646"/>
<circle cx="83" cy="345.4" r="2.4" fill="#cf2646"/>
<circle cx="71.5" cy="326.6" r="2.4" fill="#cf2646"/>
<circle cx="62" cy="306.2" r="2.4" fill="#cf2646"/>
<circle cx="59.3" cy="283.9" r="2.4" fill="#cf2646"/>
<circle cx="252.7" cy="385.1" r="19.3" fill="#fcd2d2" stroke="#f3b0b0" stroke-width="1"/>
<circle cx="250.7" cy="386.3" r="9.5" fill="#f9a9a9"/>
<circle cx="295" cy="386.3" r="9.8" fill="#fcd2d2" stroke="#f3b0b0" stroke-width="1"/>
<circle cx="295" cy="386.3" r="4.5" fill="#f9a9a9"/>
<circle cx="25.7" cy="401.8" r="12" fill="#ecdbf0" stroke="#c9aed2" stroke-width="1"/>
<circle cx="25.7" cy="401.8" r="4.5" fill="#caa3d0"/>
<circle cx="50.9" cy="421.4" r="12.9" fill="#ecdbf0" stroke="#c9aed2" stroke-width="1"/>
<circle cx="50.9" cy="421.4" r="4.8" fill="#caa3d0"/>
<circle cx="14.6" cy="454.2" r="6.2" fill="#ecdbf0" stroke="#c9aed2" stroke-width="1"/>
<circle cx="14.6" cy="454.2" r="2.2" fill="#caa3d0"/>
<circle cx="35" cy="454.2" r="11.2" fill="#ecdbf0" stroke="#c9aed2" stroke-width="1"/>
<circle cx="35" cy="454.2" r="4.2" fill="#caa3d0"/>
<ellipse cx="75" cy="459.8" rx="13.4" ry="15.4" transform="rotate(-25 75 459.8)" fill="#ecdbf0" stroke="#c9aed2" stroke-width="1"/>
<circle cx="75" cy="459.8" r="5" fill="#caa3d0"/>
<circle cx="15.4" cy="482.2" r="9.2" fill="#ecdbf0" stroke="#c9aed2" stroke-width="1"/>
<circle cx="15.4" cy="482.2" r="3.4" fill="#caa3d0"/>
<circle cx="51.2" cy="481.3" r="9.2" fill="#ecdbf0" stroke="#c9aed2" stroke-width="1"/>
<circle cx="51.2" cy="481.3" r="3.4" fill="#caa3d0"/>
<circle cx="31.3" cy="512.9" r="17.4" fill="#ecdbf0" stroke="#c9aed2" stroke-width="1"/>
<circle cx="31.3" cy="512.9" r="6.7" fill="#caa3d0"/>
<path d="M152.69,434.53 Q152.79,428.8 150.23,421.13 A1.36,1.36 0 0 1 152.8,420.2 Q155.77,427.71 159.54,432.04 Q164.08,428.55 168.49,421.77 A1.36,1.36 0 0 1 170.81,423.19 Q166.79,430.2 165.76,435.84 Q171.33,437.22 179.37,436.43 A1.36,1.36 0 0 1 179.71,439.14 Q171.72,440.37 166.66,443.08 Q169.06,448.29 174.69,454.09 A1.36,1.36 0 0 1 172.78,456.04 Q166.84,450.56 161.57,448.29 Q158.99,453.42 157.97,461.43 A1.36,1.36 0 0 1 155.25,461.16 Q155.83,453.1 154.32,447.57 Q148.71,448.74 141.8,452.94 A1.36,1.36 0 0 1 140.32,450.65 Q146.98,446.08 150.37,441.44 Q145.94,437.79 138.36,435.01 A1.36,1.36 0 0 1 139.23,432.42 Q146.96,434.78 152.69,434.53 Z" fill="#ddf0f8" stroke="#98cadb" stroke-width="1" stroke-linejoin="round"/>
<circle cx="158.7" cy="440.4" r="5.67" fill="#bfe1ef"/>
<path d="M130.25,461.17 Q131.87,458.48 132.61,454.12 A0.9,0.9 0 0 1 134.38,454.43 Q133.58,458.78 134.19,461.87 Q137.3,461.45 141.17,459.31 A0.9,0.9 0 0 1 142.03,460.89 Q138.13,462.98 136.09,465.37 Q138.36,467.55 142.45,469.24 A0.9,0.9 0 0 1 141.75,470.9 Q137.68,469.15 134.54,469.05 Q134.25,472.18 135.48,476.43 A0.9,0.9 0 0 1 133.75,476.91 Q132.58,472.65 130.7,470.13 Q128.07,471.85 125.52,475.46 A0.9,0.9 0 0 1 124.06,474.41 Q126.66,470.84 127.46,467.8 Q124.48,466.82 120.06,467.07 A0.9,0.9 0 0 1 119.97,465.27 Q124.39,465.08 127.26,463.81 Q126.17,460.87 123.22,457.57 A0.9,0.9 0 0 1 124.57,456.38 Q127.47,459.72 130.25,461.17 Z" fill="#ddf0f8" stroke="#98cadb" stroke-width="1" stroke-linejoin="round"/>
<circle cx="131.5" cy="465.6" r="3.11" fill="#bfe1ef"/>
<path d="M182.65,465.85 Q183.52,462.83 183.1,458.42 A0.9,0.9 0 0 1 184.89,458.27 Q185.25,462.67 186.63,465.5 Q189.53,464.29 192.71,461.22 A0.9,0.9 0 0 1 193.95,462.53 Q190.73,465.55 189.38,468.39 Q192.13,469.91 196.52,470.48 A0.9,0.9 0 0 1 196.27,472.26 Q191.89,471.63 188.83,472.34 Q189.36,475.44 191.65,479.23 A0.9,0.9 0 0 1 190.1,480.15 Q187.87,476.33 185.4,474.38 Q183.31,476.73 181.77,480.87 A0.9,0.9 0 0 1 180.09,480.24 Q181.68,476.11 181.67,472.97 Q178.53,472.8 174.33,474.18 A0.9,0.9 0 0 1 173.78,472.47 Q178,471.14 180.44,469.17 Q178.62,466.61 174.92,464.19 A0.9,0.9 0 0 1 175.92,462.69 Q179.58,465.16 182.65,465.85 Z" fill="#ddf0f8" stroke="#98cadb" stroke-width="1" stroke-linejoin="round"/>
<circle cx="185" cy="469.8" r="3.11" fill="#bfe1ef"/>
<path d="M134.36,495.13 Q135.36,490.03 134.28,482.8 A1.24,1.24 0 0 1 136.72,482.37 Q138.18,489.54 140.86,493.98 Q145.46,491.58 150.45,486.24 A1.24,1.24 0 0 1 152.3,487.87 Q147.61,493.48 145.8,498.35 Q150.55,500.45 157.84,501.01 A1.24,1.24 0 0 1 157.71,503.48 Q150.41,503.32 145.47,504.93 Q146.79,509.96 150.89,516.01 A1.24,1.24 0 0 1 148.89,517.45 Q144.46,511.63 140.12,508.78 Q137.02,512.94 134.84,519.92 A1.24,1.24 0 0 1 132.47,519.26 Q134.25,512.17 133.77,507 Q128.58,507.16 121.77,509.82 A1.24,1.24 0 0 1 120.81,507.54 Q127.47,504.52 131.21,500.92 Q127.85,496.97 121.52,493.3 A1.24,1.24 0 0 1 122.7,491.13 Q129.22,494.45 134.36,495.13 Z" fill="#ddf0f8" stroke="#98cadb" stroke-width="1" stroke-linejoin="round"/>
<circle cx="138.8" cy="501.3" r="5.13" fill="#bfe1ef"/>
<path d="M182.45,497 Q183.89,493.25 184.04,487.6 A0.96,0.96 0 0 1 185.96,487.6 Q186.11,493.25 187.55,497 Q191.38,495.79 195.9,492.39 A0.96,0.96 0 0 1 197.09,493.88 Q192.77,497.53 190.73,500.99 Q194.07,503.23 199.54,504.64 A0.96,0.96 0 0 1 199.12,506.5 Q193.57,505.4 189.6,505.97 Q189.93,509.97 192.24,515.13 A0.96,0.96 0 0 1 190.52,515.96 Q187.92,510.93 185,508.18 Q182.08,510.93 179.48,515.96 A0.96,0.96 0 0 1 177.76,515.13 Q180.07,509.97 180.4,505.97 Q176.43,505.4 170.88,506.5 A0.96,0.96 0 0 1 170.46,504.64 Q175.93,503.23 179.27,500.99 Q177.23,497.53 172.91,493.88 A0.96,0.96 0 0 1 174.1,492.39 Q178.62,495.79 182.45,497 Z" fill="#ddf0f8" stroke="#98cadb" stroke-width="1" stroke-linejoin="round"/>
<circle cx="185" cy="502.3" r="3.97" fill="#bfe1ef"/>
<path d="M262.1,472.9 L261.4,473.99 L260.39,474.93 L259.41,475.72 L258.74,476.48 L258.5,477.38 L258.59,478.49 L258.77,479.81 L258.76,481.17 L258.34,482.34 L257.46,483.1 L256.23,483.36 L254.86,483.23 L253.58,482.94 L252.51,482.81 L251.62,483.04 L250.81,483.71 L249.93,484.65 L248.9,485.56 L247.74,486.11 L246.58,486.07 L245.54,485.43 L244.73,484.35 L244.12,483.14 L243.58,482.12 L242.9,481.47 L241.96,481.17 L240.74,481.06 L239.38,480.89 L238.14,480.43 L237.3,479.6 L237,478.45 L237.22,477.15 L237.75,475.89 L238.27,474.77 L238.48,473.81 L238.25,472.9 L237.64,471.91 L236.9,470.78 L236.37,469.54 L236.33,468.32 L236.88,467.3 L237.93,466.57 L239.24,466.13 L240.49,465.84 L241.47,465.47 L242.12,464.83 L242.54,463.82 L242.94,462.57 L243.5,461.33 L244.35,460.39 L245.44,460.01 L246.66,460.22 L247.85,460.89 L248.9,461.71 L249.82,462.35 L250.72,462.58 L251.72,462.39 L252.89,461.93 L254.2,461.53 L255.5,461.47 L256.58,461.93 L257.29,462.9 L257.6,464.2 L257.65,465.56 L257.68,466.75 L257.95,467.67 L258.61,468.37 L259.63,468.99 L260.79,469.71 L261.76,470.63 L262.24,471.73Z" fill="#fcf0c6" stroke="#d2b67c" stroke-width="0.9" stroke-linejoin="round"/>
<circle cx="248.9" cy="472.9" r="5.36" fill="#f3cb92"/>
<path d="M301.8,485.4 L301.53,486.37 L300.82,487.22 L299.9,487.92 L299.06,488.51 L298.49,489.13 L298.28,489.89 L298.31,490.87 L298.37,492 L298.23,493.13 L297.75,494.04 L296.91,494.56 L295.84,494.65 L294.7,494.42 L293.67,494.1 L292.79,493.95 L292.04,494.15 L291.31,494.71 L290.5,495.46 L289.56,496.13 L288.55,496.45 L287.59,496.27 L286.79,495.6 L286.2,494.61 L285.78,493.57 L285.38,492.72 L284.82,492.17 L284.01,491.89 L282.96,491.73 L281.83,491.47 L280.86,490.97 L280.26,490.17 L280.15,489.17 L280.47,488.09 L281.01,487.07 L281.5,486.19 L281.69,485.4 L281.5,484.61 L281.01,483.73 L280.47,482.71 L280.15,481.63 L280.26,480.63 L280.86,479.83 L281.83,479.33 L282.96,479.07 L284.01,478.91 L284.82,478.63 L285.38,478.08 L285.78,477.23 L286.2,476.19 L286.79,475.2 L287.59,474.53 L288.55,474.35 L289.56,474.67 L290.5,475.34 L291.31,476.09 L292.04,476.65 L292.79,476.85 L293.67,476.7 L294.7,476.38 L295.84,476.15 L296.91,476.24 L297.75,476.76 L298.23,477.67 L298.37,478.8 L298.31,479.93 L298.28,480.91 L298.49,481.67 L299.06,482.29 L299.9,482.88 L300.82,483.58 L301.53,484.43Z" fill="#fcf0c6" stroke="#d2b67c" stroke-width="0.9" stroke-linejoin="round"/>
<circle cx="290.5" cy="485.4" r="4.52" fill="#f3cb92"/>
<path d="M271.97,503.9 L271.66,504.57 L271.09,505.15 L270.45,505.63 L269.94,506.06 L269.67,506.54 L269.63,507.15 L269.71,507.9 L269.74,508.72 L269.57,509.47 L269.14,510.03 L268.47,510.28 L267.67,510.26 L266.88,510.08 L266.19,509.91 L265.62,509.93 L265.11,510.2 L264.59,510.69 L264,511.25 L263.32,511.66 L262.61,511.78 L261.96,511.51 L261.44,510.94 L261.06,510.21 L260.75,509.53 L260.41,509.02 L259.94,508.74 L259.28,508.62 L258.49,508.53 L257.7,508.31 L257.1,507.89 L256.8,507.26 L256.84,506.51 L257.12,505.74 L257.49,505.05 L257.73,504.45 L257.73,503.9 L257.47,503.33 L257.06,502.68 L256.7,501.94 L256.56,501.19 L256.76,500.52 L257.3,500.03 L258.04,499.73 L258.83,499.56 L259.5,499.4 L259.99,499.12 L260.3,498.62 L260.55,497.93 L260.86,497.17 L261.32,496.53 L261.93,496.17 L262.64,496.18 L263.35,496.51 L264,497.01 L264.56,497.48 L265.08,497.75 L265.65,497.76 L266.31,497.56 L267.07,497.31 L267.87,497.2 L268.58,497.36 L269.09,497.83 L269.35,498.55 L269.4,499.37 L269.37,500.14 L269.43,500.77 L269.7,501.24 L270.22,501.64 L270.88,502.06 L271.51,502.58 L271.92,503.21Z" fill="#fcf0c6" stroke="#d2b67c" stroke-width="0.9" stroke-linejoin="round"/>
<circle cx="264" cy="503.9" r="3.2" fill="#f3cb92"/>
<line x1="257.7" y1="235.2" x2="386" y2="188.9" stroke="#3a3f47" stroke-width="1.1"/>
<line x1="48" y1="521.5" x2="434.5" y2="521.5" stroke="#3a3f47" stroke-width="1.3"/>
<path d="M376.07,176.06 Q370.2,165.6 381.1,160.58 L447.9,129.82 Q458.8,124.8 463.91,135.66 L480.69,171.34 Q485.8,182.2 474.71,186.78 L410.59,213.22 Q399.5,217.8 393.63,207.34 Z" fill="#ef6c73" stroke="#c94b56" stroke-width="1.1"/>
<ellipse cx="429.6" cy="172" rx="10.4" ry="13.5" transform="rotate(-10 429.6 172)" fill="#d9555f" stroke="#cc4a57" stroke-width="0.8"/>
<g transform="translate(379.8,151.8) rotate(-33) scale(1.0)">
<line x1="0" y1="-1" x2="1.2" y2="15" stroke="#7a4888" stroke-width="1.5"/>
<path d="M-2.8,0 L-7,-20.5 Q-7.4,-24 -4.4,-23.8 Q-3,-23.5 -2.4,-21.5 L0.6,-13.4 L3.2,-13.4 L3.2,-22.4 Q3.2,-25.6 6,-25.6 Q8.8,-25.6 8.8,-22.4 L8.8,-11.8 Q10.6,-11.4 10.6,-8.5 L10.6,-3.2 Q10.6,-0.6 8,-0.6 L2.4,0 Z" fill="#b993d2" stroke="#8f68b5" stroke-width="0.9" stroke-linejoin="round"/>
<path d="M3.2,-13.4 L3.2,-1 M3.2,-11.8 L9.4,-11.8" fill="none" stroke="#8f68b5" stroke-width="0.7"/>
</g>
<g transform="translate(412.5,136.5) rotate(-23) scale(1.0)">
<line x1="0" y1="-1" x2="1.2" y2="15" stroke="#d89040" stroke-width="1.5"/>
<path d="M-2.8,0 L-7,-20.5 Q-7.4,-24 -4.4,-23.8 Q-3,-23.5 -2.4,-21.5 L0.6,-13.4 L3.2,-13.4 L3.2,-22.4 Q3.2,-25.6 6,-25.6 Q8.8,-25.6 8.8,-22.4 L8.8,-11.8 Q10.6,-11.4 10.6,-8.5 L10.6,-3.2 Q10.6,-0.6 8,-0.6 L2.4,0 Z" fill="#f5cf66" stroke="#dca73a" stroke-width="0.9" stroke-linejoin="round"/>
<path d="M3.2,-13.4 L3.2,-1 M3.2,-11.8 L9.4,-11.8" fill="none" stroke="#dca73a" stroke-width="0.7"/>
</g>
<g transform="translate(443.1,122.5) rotate(-3) scale(1.0)">
<line x1="0" y1="-1" x2="1.2" y2="15" stroke="#a04820" stroke-width="1.5"/>
<path d="M-2.8,0 L-7,-20.5 Q-7.4,-24 -4.4,-23.8 Q-3,-23.5 -2.4,-21.5 L0.6,-13.4 L3.2,-13.4 L3.2,-22.4 Q3.2,-25.6 6,-25.6 Q8.8,-25.6 8.8,-22.4 L8.8,-11.8 Q10.6,-11.4 10.6,-8.5 L10.6,-3.2 Q10.6,-0.6 8,-0.6 L2.4,0 Z" fill="#f27a32" stroke="#cf5a1c" stroke-width="0.9" stroke-linejoin="round"/>
<path d="M3.2,-13.4 L3.2,-1 M3.2,-11.8 L9.4,-11.8" fill="none" stroke="#cf5a1c" stroke-width="0.7"/>
</g>
<circle cx="502.4" cy="116.6" r="4.7" fill="#f06a6c" stroke="#e0585c" stroke-width="0.6"/>
<circle cx="519.3" cy="120.1" r="8.4" fill="#f06a6c" stroke="#e0585c" stroke-width="0.6"/>
<circle cx="498.9" cy="129.7" r="7.3" fill="#f06a6c" stroke="#e0585c" stroke-width="0.6"/>
<circle cx="514.1" cy="138.1" r="4.7" fill="#e77aa8" stroke="#e0585c" stroke-width="0.6"/>
<circle cx="533.3" cy="138.1" r="10.5" fill="#f06a6c" stroke="#e0585c" stroke-width="0.6"/>
<circle cx="523.4" cy="153.3" r="7.5" fill="#f06a6c" stroke="#e0585c" stroke-width="0.6"/>
<path d="M548.4,146.1 C621.3,185.2 647.6,284.9 607.5,356" fill="none" stroke="#111" stroke-width="2.7"/>
<path d="M602.3,367.5 L601.2,352.6 L613.4,358.3 Z" fill="#111"/>
<path d="M377,258 C351.9,296.5 348.1,349.4 377,388" fill="none" stroke="#111" stroke-width="2.5"/>
<path d="M381.2,250.6 L372.8,256.6 L380.4,261 Z" fill="#111"/>
<path d="M380.8,395.8 L372.6,391 L380.6,385.6 Z" fill="#111"/>
<ellipse cx="479.6" cy="484.7" rx="51.6" ry="52.5" fill="#ecdcf3" stroke="#b898c8" stroke-width="1.5"/>
<circle cx="484.7" cy="486" r="19.6" fill="#d5b0da" stroke="#c7a0cd" stroke-width="1"/>
<line x1="424" y1="436" x2="451.1" y2="460.6" stroke="#8a5030" stroke-width="1.2"/>
<polyline points="438.14,440.97 435.97,446.02 440.77,443.35 438.59,448.39 443.39,445.72 441.22,450.77 446.02,448.1 443.84,453.14 448.64,450.47" fill="none" stroke="#9a5a36" stroke-width="1.1" stroke-linejoin="round"/>
<circle cx="419.4" cy="415" r="6.5" fill="#c9743a"/>
<circle cx="410.5" cy="423.8" r="6.2" fill="#c9743a"/>
<circle cx="421.8" cy="434.5" r="6.4" fill="#c9743a"/>
<line x1="419.4" y1="415" x2="410.5" y2="423.8" stroke="#c9743a" stroke-width="8.9"/>
<line x1="410.5" y1="423.8" x2="421.8" y2="434.5" stroke="#c9743a" stroke-width="5.9"/>
<circle cx="419.4" cy="415" r="5.3" fill="#f9cd9e"/>
<circle cx="410.5" cy="423.8" r="5.0" fill="#f9cd9e"/>
<circle cx="421.8" cy="434.5" r="5.2" fill="#f9cd9e"/>
<line x1="419.4" y1="415" x2="410.5" y2="423.8" stroke="#f9cd9e" stroke-width="6.5"/>
<line x1="410.5" y1="423.8" x2="421.8" y2="434.5" stroke="#f9cd9e" stroke-width="3.5"/>
<line x1="477.3" y1="415" x2="477.3" y2="442.7" stroke="#2a5a88" stroke-width="1.2"/>
<polyline points="478.8,434 475.8,435.33 478.8,436.67 475.8,438 478.8,439.33 475.8,440.67 478.8,442" fill="none" stroke="#2a5a88" stroke-width="1" stroke-linejoin="round"/>
<ellipse cx="475.8" cy="404.5" rx="6.4" ry="10" transform="rotate(-8 475.8 404.5)" fill="#2e6e8a"/>
<ellipse cx="486.6" cy="404.5" rx="6.4" ry="10" transform="rotate(8 486.6 404.5)" fill="#2e6e8a"/>
<rect x="473.1" y="405.6" width="15.8" height="11.4" rx="4" fill="#2e6e8a"/>
<ellipse cx="475.8" cy="404.5" rx="5" ry="8.6" transform="rotate(-8 475.8 404.5)" fill="#8ec7d8"/>
<ellipse cx="486.6" cy="404.5" rx="5" ry="8.6" transform="rotate(8 486.6 404.5)" fill="#8ec7d8"/>
<rect x="474.5" y="407" width="13" height="8.6" rx="4" fill="#8ec7d8"/>
<path d="M481.2,414.6 Q482,411 485,410.5" fill="none" stroke="#2e6e8a" stroke-width="1.2"/>
<line x1="522.5" y1="428" x2="501.3" y2="448.6" stroke="#404088" stroke-width="1.2"/>
<polyline points="507.16,442.66 512.17,445.01 509.83,439.99 514.84,442.34 512.49,437.33 517.51,439.67 515.16,434.66" fill="none" stroke="#40408a" stroke-width="1.3" stroke-linejoin="round"/>
<circle cx="523.4" cy="424.5" r="5.5" fill="#7068b8"/>
<circle cx="534.4" cy="416.3" r="6.3" fill="#7068b8"/>
<circle cx="541.4" cy="423.8" r="6.5" fill="#7068b8"/>
<line x1="523.4" y1="424.5" x2="534.4" y2="416.3" stroke="#7068b8" stroke-width="6.7"/>
<line x1="534.4" y1="416.3" x2="541.4" y2="423.8" stroke="#7068b8" stroke-width="8.2"/>
<circle cx="523.4" cy="424.5" r="4.4" fill="#c9c0f0"/>
<circle cx="534.4" cy="416.3" r="5.2" fill="#c9c0f0"/>
<circle cx="541.4" cy="423.8" r="5.4" fill="#c9c0f0"/>
<line x1="523.4" y1="424.5" x2="534.4" y2="416.3" stroke="#c9c0f0" stroke-width="4.5"/>
<line x1="534.4" y1="416.3" x2="541.4" y2="423.8" stroke="#c9c0f0" stroke-width="6"/>
<circle cx="579.2" cy="371.6" r="8.4" fill="#a879b9" stroke="#9a6aac" stroke-width="0.6"/>
<circle cx="562.4" cy="380.7" r="8.2" fill="#a879b9" stroke="#9a6aac" stroke-width="0.6"/>
<circle cx="579.2" cy="384.2" r="4" fill="#a879b9" stroke="#9a6aac" stroke-width="0.6"/>
<circle cx="594.1" cy="388.4" r="10.5" fill="#a879b9" stroke="#9a6aac" stroke-width="0.6"/>
<circle cx="567.8" cy="393.6" r="3.9" fill="#a879b9" stroke="#9a6aac" stroke-width="0.6"/>
<circle cx="579.2" cy="405.2" r="8.4" fill="#a879b9" stroke="#9a6aac" stroke-width="0.6"/>
<text x="379.82" y="293.8" font-size="14.43" fill="#1c1c1c" stroke="#1c1c1c" stroke-width="0.15" textLength="237.61" lengthAdjust="spacingAndGlyphs">Promotion of maternal-fetalimmunity</text>
<text x="380.43" y="309.3" font-size="14.43" fill="#1c1c1c" stroke="#1c1c1c" stroke-width="0.15" textLength="112.65" lengthAdjust="spacingAndGlyphs">and angiogenesis</text>
<text x="365.43" y="232.4" font-size="14.71" fill="#1c1c1c" stroke="#1c1c1c" stroke-width="0.15" textLength="177.95" lengthAdjust="spacingAndGlyphs">Extravillous trophoblast cell</text>
<text x="508.58" y="182.2" font-size="13.71" fill="#1c1c1c" stroke="#1c1c1c" stroke-width="0.15" textLength="47.88" lengthAdjust="spacingAndGlyphs">HLA-1α</text>
<text x="410" y="385.8" font-size="15" fill="#1c1c1c" stroke="#1c1c1c" stroke-width="0.15" textLength="22.88" lengthAdjust="spacingAndGlyphs">KIR</text>
<text x="577.77" y="433.8" font-size="14" fill="#1c1c1c" stroke="#1c1c1c" stroke-width="0.15" textLength="34.77" lengthAdjust="spacingAndGlyphs">VEGF</text>
<text x="479.34" y="554.9" font-size="14.43" fill="#1c1c1c" stroke="#1c1c1c" stroke-width="0.15" textLength="46.04" lengthAdjust="spacingAndGlyphs">NK cell</text>
<text x="259.71" y="422.4" font-size="14.71" fill="#1c1c1c" stroke="#1c1c1c" stroke-width="0.15" textLength="34.38" lengthAdjust="spacingAndGlyphs">T cell</text>
<text x="16.33" y="552.6" font-size="14.43" fill="#1c1c1c" stroke="#1c1c1c" stroke-width="0.15" textLength="46.25" lengthAdjust="spacingAndGlyphs">NK cell</text>
<text x="117.02" y="552.6" font-size="14.43" fill="#1c1c1c" stroke="#1c1c1c" stroke-width="0.15" textLength="84.32" lengthAdjust="spacingAndGlyphs">Dendritic cell</text>
<text x="240.83" y="552.6" font-size="14.43" fill="#1c1c1c" stroke="#1c1c1c" stroke-width="0.15" textLength="81.08" lengthAdjust="spacingAndGlyphs">Macrophage</text>
<g transform="translate(345,134) rotate(-34)"><text x="-1.09" y="0" font-size="13.57" fill="#1c1c1c" stroke="#1c1c1c" stroke-width="0.15" textLength="40.72" lengthAdjust="spacingAndGlyphs">HLA-C</text></g>
<g transform="translate(379.6,104.1) rotate(-19)"><text x="-1.07" y="0" font-size="13.43" fill="#1c1c1c" stroke="#1c1c1c" stroke-width="0.15" textLength="39.55" lengthAdjust="spacingAndGlyphs">HLA-E</text></g>
<g transform="translate(430.6,88.8) rotate(-9.5)"><text x="-1.05" y="0" font-size="13.14" fill="#1c1c1c" stroke="#1c1c1c" stroke-width="0.15" textLength="40.17" lengthAdjust="spacingAndGlyphs">HLA-G</text></g>
</svg>
</body></html>
